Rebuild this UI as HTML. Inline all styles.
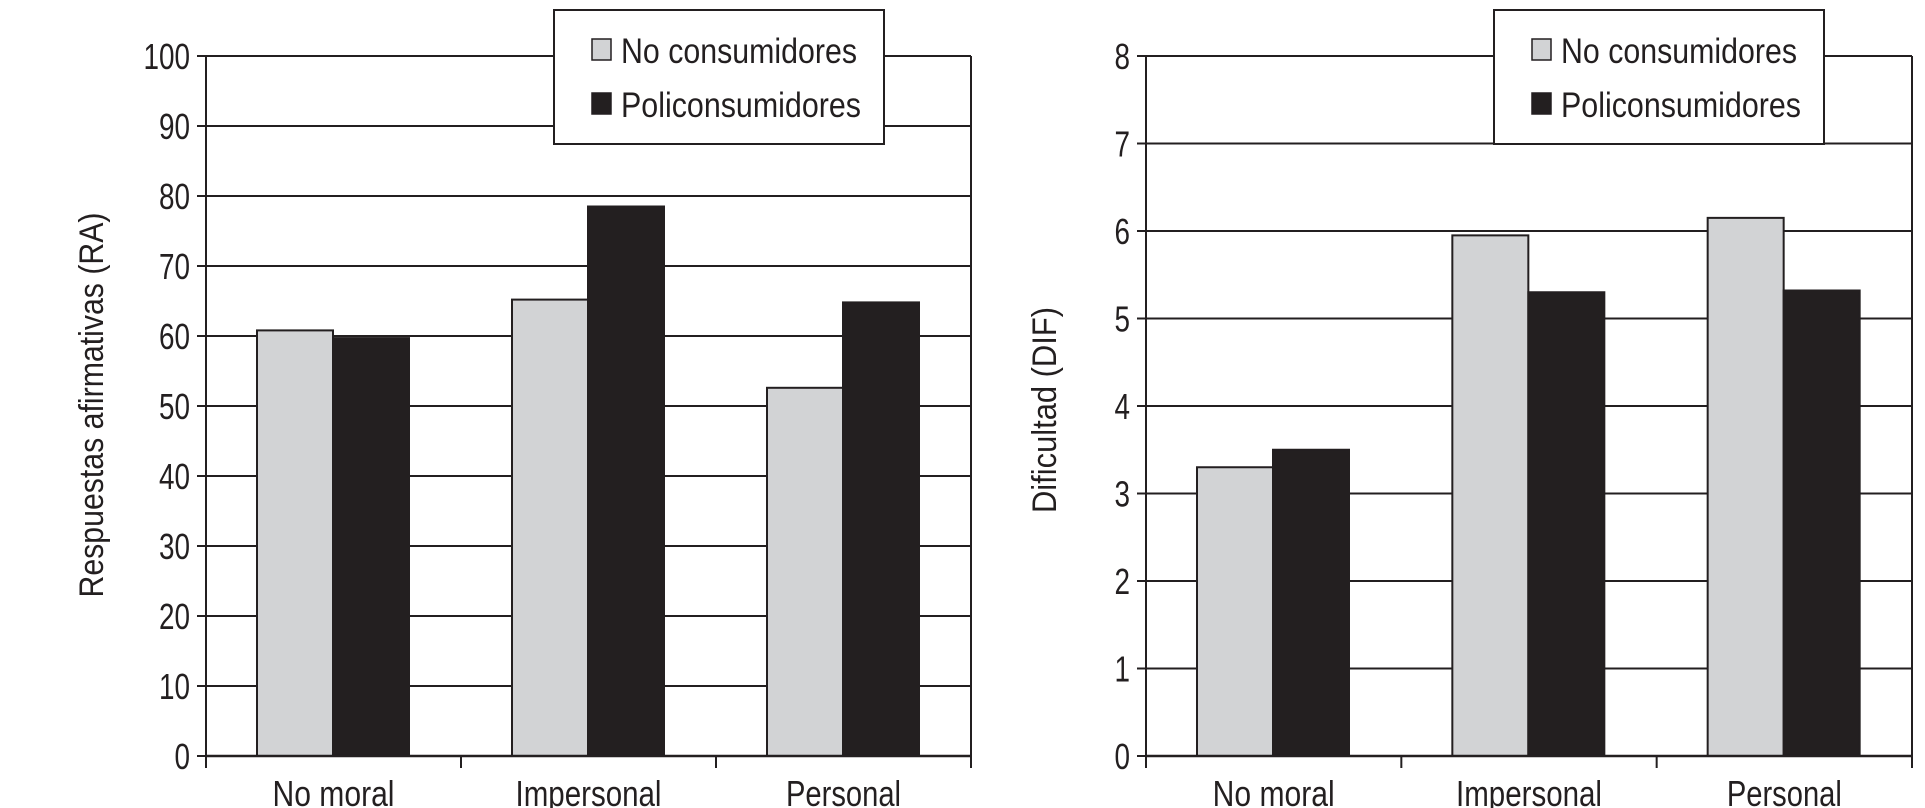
<!DOCTYPE html>
<html><head><meta charset="utf-8"><style>
html,body{margin:0;padding:0;background:#fff;}
svg{display:block;font-family:"Liberation Sans Narrow","Liberation Sans",sans-serif;}
</style></head><body>
<svg id="c" width="1925" height="808"></svg>
<script>
const categories = ["No moral","Impersonal","Personal"];
const seriesNames = ["No consumidores","Policonsumidores"];
const raNo = [60.8, 65.2, 52.6];
const raPoli = [59.7, 78.5, 64.8];
const difNo = [3.3, 5.95, 6.15];
const difPoli = [3.5, 5.3, 5.32];
const raTicks = [0,10,20,30,40,50,60,70,80,90,100];
const difTicks = [0,1,2,3,4,5,6,7,8];
const colors = ["#d2d3d5","#231f20"];
const catLen = {"No moral":122,"Impersonal":146,"Personal":115};
const NS="http://www.w3.org/2000/svg";
const svg=document.getElementById('c');
function mk(tag,attrs,parent){const e=document.createElementNS(NS,tag);for(const k in attrs)e.setAttribute(k,attrs[k]);(parent||svg).appendChild(e);return e;}
function chart(cfg){
  const g=mk('g',{});
  
  
  const x0=cfg.x0,x1=cfg.x1,yTop=56,yBot=756,max=cfg.ticks[cfg.ticks.length-1];
  const y=v=>yBot-(v/max)*(yBot-yTop);
  const cw=(x1-x0)/categories.length;
  const xc=i=>x0+i*cw;
  cfg.ticks.forEach(t=>{
    const l=mk('line',{x1:x0-9,x2:x1,y1:y(t),y2:y(t),stroke:'#231f20','stroke-width':2},g);
    
    
    const s=String(t);
    const tx=mk('text',{x:x0-16-15.5*s.length,y:y(t)+13,'font-size':36,fill:'#231f20',textLength:15.5*s.length,lengthAdjust:'spacingAndGlyphs'},g);
    tx.textContent=s;
    
    
  });
  const bw=76, off=51;
  [cfg.a,cfg.b].forEach((arr,s)=>{
    arr.forEach((v,i)=>{
      const r=mk('rect',{x:xc(i)+off+s*bw,y:y(v),width:bw,height:yBot-y(v),fill:colors[s],stroke:'#231f20','stroke-width':2},g);
      
      
    });
  });
  const ax=mk('line',{x1:x0,x2:x0,y1:yTop,y2:yBot+12,stroke:'#231f20','stroke-width':2},g);
  
  
  const rx=mk('line',{x1:x1,x2:x1,y1:yTop,y2:yBot+12,stroke:'#231f20','stroke-width':2},g);
  
  
  const bx=mk('line',{x1:x0,x2:x1,y1:yBot,y2:yBot,stroke:'#231f20','stroke-width':2.5},g);
  
  
  categories.forEach((c,i)=>{
    if(i>0){const tk=mk('line',{x1:xc(i),x2:xc(i),y1:yBot,y2:yBot+12,stroke:'#231f20','stroke-width':2},g);
      
      }
    const L=catLen[c]||130;
    const t=mk('text',{x:xc(i)+cw/2-L/2,y:806,'font-size':36,fill:'#231f20',textLength:L,lengthAdjust:'spacingAndGlyphs'},g);
    t.textContent=c;
    
    
  });
  const tt=mk('text',{x:-cfg.titleLen/2,y:0,'font-size':34,fill:'#231f20',textLength:cfg.titleLen,lengthAdjust:'spacingAndGlyphs',transform:`translate(${cfg.titleX},${cfg.titleY}) rotate(-90)`},g);
  tt.textContent=cfg.title;
  
  
  const lg=mk('g',{},g);
  
  
  const bxr=mk('rect',{x:cfg.lx,y:10,width:330,height:134,fill:'#fff',stroke:'#231f20','stroke-width':2},lg);
  
  
  seriesNames.forEach((n,s)=>{
    const cy=s?104:50;
    const sq=mk('rect',{x:cfg.lx+38,y:cy-11,width:19,height:21,fill:colors[s],stroke:'#231f20','stroke-width':1.5},lg);
    
    
    const t=mk('text',{x:cfg.lx+67,y:cy+13,'font-size':35,fill:'#231f20',textLength:s?240:236,lengthAdjust:'spacingAndGlyphs'},lg);
    t.textContent=n;
    
    
  });
}
chart({name:'ra-chart',x0:206,x1:971,ticks:raTicks,a:raNo,b:raPoli,title:'Respuestas afirmativas (RA)',titleX:103,titleY:405,titleLen:385,lx:554});
chart({name:'dif-chart',x0:1146,x1:1912,ticks:difTicks,a:difNo,b:difPoli,title:'Dificultad (DIF)',titleX:1056,titleY:410,titleLen:206,lx:1494});
</script>
</body></html>
